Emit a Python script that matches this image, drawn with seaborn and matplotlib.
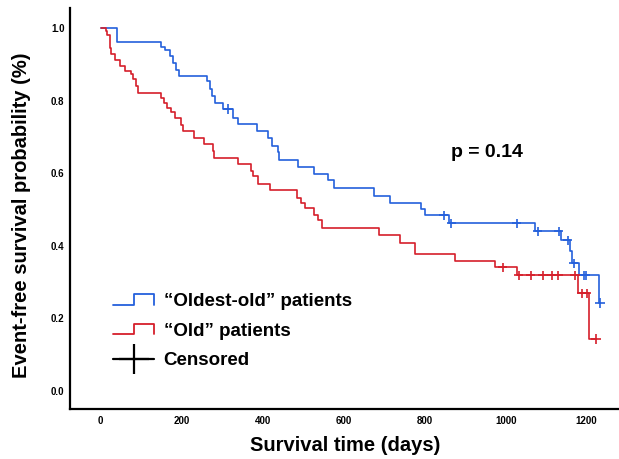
import matplotlib
matplotlib.use("Agg")
import matplotlib.pyplot as plt
from matplotlib.lines import Line2D
from matplotlib.legend_handler import HandlerBase
import seaborn as sns
import pandas as pd

# ---- data ----
red_time = [0, 12, 15, 22, 24, 26, 35, 47, 59, 74, 79, 87, 92, 149, 156, 163, 173, 183, 198, 203,
            230, 255, 277, 280, 339, 371, 376, 389, 418, 485, 495, 505, 527, 537, 547,
            688, 740, 775, 876, 973, 1027, 1178, 1205, 1223]
red_surv = [1.0, 0.992, 0.981, 0.959, 0.945, 0.929, 0.912, 0.896, 0.882, 0.874, 0.860, 0.841, 0.821,
            0.808, 0.794, 0.780, 0.769, 0.753, 0.734, 0.717, 0.698, 0.681, 0.662, 0.643,
            0.626, 0.607, 0.591, 0.571, 0.555, 0.533, 0.519, 0.503, 0.484, 0.470, 0.448,
            0.429, 0.409, 0.376, 0.357, 0.341, 0.319, 0.269, 0.143, 0.143]

blue_time = [0, 40, 149, 158, 171, 178, 186, 193, 262, 270, 275, 282, 302, 327, 339, 386, 413, 423,
             438, 441, 488, 527, 562, 577, 676, 715, 790, 802, 859, 1072, 1136, 1158, 1163, 1181,
             1230, 1233]
blue_surv = [1.0, 0.962, 0.948, 0.940, 0.923, 0.904, 0.885, 0.868, 0.854, 0.832, 0.813, 0.794, 0.777,
             0.753, 0.736, 0.717, 0.698, 0.676, 0.657, 0.637, 0.618, 0.599, 0.580, 0.560,
             0.538, 0.519, 0.500, 0.484, 0.462, 0.440, 0.415, 0.387, 0.352, 0.319, 0.242, 0.242]

blue_cens_time = [314, 847, 866, 1027, 1079, 1131, 1153, 1168, 1193, 1198, 1233]
blue_cens_surv = [0.777, 0.484, 0.462, 0.462, 0.440, 0.440, 0.415, 0.352, 0.319, 0.319, 0.242]
red_cens_time = [993, 1032, 1062, 1092, 1114, 1129, 1171, 1188, 1200, 1223]
red_cens_surv = [0.341, 0.319, 0.319, 0.319, 0.319, 0.319, 0.319, 0.269, 0.269, 0.143]

groups = ["\u201cOldest-old\u201d patients", "\u201cOld\u201d patients"]
x_ticks = [0, 200, 400, 600, 800, 1000, 1200]
y_ticks = [0.0, 0.2, 0.4, 0.6, 0.8, 1.0]
p_text = "p = 0.14"

BLUE = "#2460dc"
RED = "#d51f2b"
palette = {groups[0]: BLUE, groups[1]: RED}

sns.set_theme(style="white")
plt.rcParams["font.family"] = ["Liberation Sans", "DejaVu Sans"]
plt.rcParams["text.color"] = "black"
plt.rcParams["axes.labelcolor"] = "black"
plt.rcParams["xtick.color"] = "black"
plt.rcParams["ytick.color"] = "black"

curves = pd.concat([
    pd.DataFrame({"time": blue_time, "surv": blue_surv, "group": groups[0]}),
    pd.DataFrame({"time": red_time, "surv": red_surv, "group": groups[1]}),
])
cens = pd.concat([
    pd.DataFrame({"time": blue_cens_time, "surv": blue_cens_surv, "group": groups[0]}),
    pd.DataFrame({"time": red_cens_time, "surv": red_cens_surv, "group": groups[1]}),
])

fig = plt.figure(figsize=(6.19, 4.59), dpi=100)
ax = fig.add_axes([70 / 619, 1 - 409 / 459, 549 / 619, 401 / 459])

sns.lineplot(data=curves, x="time", y="surv", hue="group", palette=palette, estimator=None,
             sort=False, drawstyle="steps-post", linewidth=1.2, legend=False, ax=ax)
sns.scatterplot(data=cens, x="time", y="surv", hue="group", palette=palette, marker="+",
                s=45, linewidth=1.2, legend=False, ax=ax, zorder=3)

ax.set_xlim(-76, 1280)
ax.set_ylim(-0.0496, 1.055)
ax.set_xticks(x_ticks)
ax.set_xticklabels([str(v) for v in x_ticks])
ax.set_yticks(y_ticks)
ax.set_yticklabels([f"{v:.1f}" for v in y_ticks])
ax.tick_params(axis="both", length=0, labelsize=7)
ax.tick_params(axis="x", pad=5)
ax.tick_params(axis="y", pad=4)
for lab in ax.get_xticklabels() + ax.get_yticklabels():
    lab.set_fontweight("bold")
    lab.set_color("black")

for s in ["top", "right"]:
    ax.spines[s].set_visible(False)
for s in ["left", "bottom"]:
    ax.spines[s].set_color("black")
    ax.spines[s].set_linewidth(1.6)

ax.set_xlabel("Survival time (days)", fontsize=14.5, fontweight="bold", color="black")
ax.set_ylabel("Event-free survival probability (%)", fontsize=14.5, fontweight="bold", color="black")
ax.xaxis.set_label_coords(0.501, -0.067)
ax.yaxis.set_label_coords(-0.071, 0.484)

ax.text(955, 0.658, p_text, ha="center", va="center", fontsize=14, fontweight="bold", color="black")


class StepHandler(HandlerBase):
    def create_artists(self, legend, orig_handle, xdescent, ydescent, width, height, fontsize, trans):
        x0 = -xdescent
        lo = -ydescent + height * 0.1
        hi = -ydescent + height * 0.9
        xs = [x0, x0 + width * 0.5, x0 + width * 0.5, x0 + width, x0 + width]
        ys = [lo, lo, hi, hi, lo]
        ln = Line2D(xs, ys, color=orig_handle.get_color(), linewidth=1.3)
        ln.set_transform(trans)
        return [ln]


h_blue = Line2D([], [], color=BLUE)
h_red = Line2D([], [], color=RED)
h_cens = Line2D([], [], color="black", marker="+", markersize=22, markeredgewidth=1.6, linewidth=1.6)

leg = ax.legend([h_blue, h_red, h_cens], [groups[0], groups[1], "Censored"],
                handler_map={h_blue: StepHandler(), h_red: StepHandler()},
                loc="upper left", bbox_to_anchor=(113 / 619, 1 - 293 / 459),
                bbox_transform=fig.transFigure, frameon=False, borderpad=0, borderaxespad=0,
                handlelength=2.2, handletextpad=0.5, labelspacing=0.66, numpoints=1,
                prop={"size": 13.5, "weight": "bold"})
for t in leg.get_texts():
    t.set_color("black")

fig.savefig("out.png", dpi=100)
